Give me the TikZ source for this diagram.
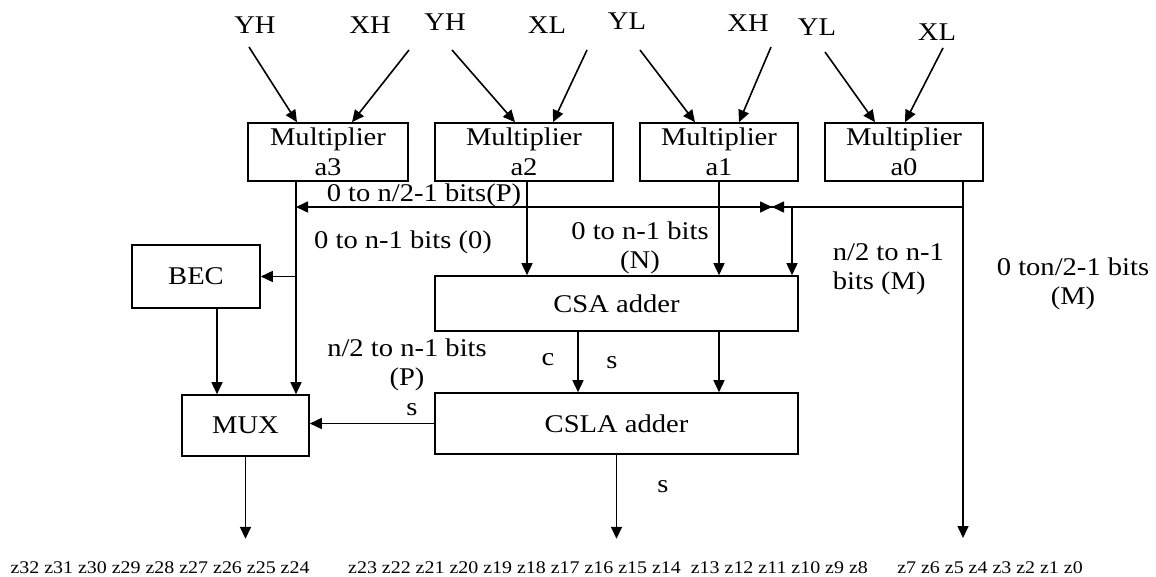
\documentclass[tikz,border=0pt]{standalone}
\usepackage{fontspec}
\setmainfont{Liberation Serif}[FakeStretch=1.12]
\usetikzlibrary{arrows.meta}
\begin{document}
\begin{tikzpicture}[x=0.5pt,y=-0.5pt,line width=0.8pt,
  >={Triangle[length=6pt,width=5.5pt]},
  blk/.style={draw,line width=0.8pt,inner sep=0pt,align=center,font=\fontsize{12.75}{15}\selectfont},
  lbl/.style={inner sep=0pt,align=center,font=\fontsize{12.75}{14.5}\selectfont},
  zlbl/.style={inner sep=0pt,font=\fontsize{8.9}{10}\selectfont}]
\useasboundingbox (0,0) rectangle (1156,577);
% input labels
\node[lbl] (iyh3) at (255,25) {YH};
\node[lbl] (ixh3) at (370,25) {XH};
\node[lbl] (iyh2) at (445,22) {YH};
\node[lbl] (ixl2) at (547,25) {XL};
\node[lbl] (iyl1) at (627,21) {YL};
\node[lbl] (ixh1) at (748,23) {XH};
\node[lbl] (iyl0) at (817,27) {YL};
\node[lbl] (ixl0) at (937,32) {XL};
% multipliers
\node[blk,minimum width=80pt,minimum height=29pt] (m3) at (328,152) {Multiplier\\a3};
\node[blk,minimum width=89pt,minimum height=29pt] (m2) at (524,152) {Multiplier\\a2};
\node[blk,minimum width=79pt,minimum height=29pt] (m1) at (719,152) {Multiplier\\a1};
\node[blk,minimum width=79pt,minimum height=29pt] (m0) at (904,152) {Multiplier\\a0};
% other blocks
\node[blk,minimum width=64pt,minimum height=31.5pt] (bec) at (196,276.5) {BEC};
\node[blk,minimum width=181.5pt,minimum height=27.5pt] (csa) at (616.5,303.5) {CSA adder};
\node[blk,minimum width=181.5pt,minimum height=30.5pt] (csla) at (616.5,423.5) {CSLA adder};
\node[blk,minimum width=63.5pt,minimum height=30.5pt] (mux) at (245.5,425.5) {MUX};
% input arrow starts
\coordinate (s1) at (249,47);
\coordinate (s2) at (409,50);
\coordinate (s3) at (452,50);
\coordinate (s4) at (587,50);
\coordinate (s5) at (640,50);
\coordinate (s6) at (771,47);
\coordinate (s7) at (825,52);
\coordinate (s8) at (943,48);
\draw[->] (s1) -- ([xshift=-15.5pt]m3.north);
\draw[->] (s2) -- ([xshift=12pt]m3.north);
\draw[->] (s3) -- ([xshift=-4.5pt]m2.north);
\draw[->] (s4) -- ([xshift=14.5pt]m2.north);
\draw[->] (s5) -- ([xshift=-12pt]m1.north);
\draw[->] (s6) -- ([xshift=10pt]m1.north);
\draw[->] (s7) -- ([xshift=-14.5pt]m0.north);
\draw[->] (s8) -- ([xshift=0.5pt]m0.north);
% bus and branches
\coordinate (p3) at (296,181);
\coordinate (p2) at (527,181);
\coordinate (q0) at (963,181);
\coordinate (bus0) at (963,207);
\coordinate (busL) at (296,207);
\coordinate (bow) at (772,207);
\coordinate (bowL) at (750,207);
\coordinate (br) at (792,207);
\coordinate (cx) at (578,0);
\coordinate (zend) at (963,538);
\draw (q0) -- (bus0);
\draw[->] (bus0) -- (zend);
\draw[->] (bus0) -- (busL);
\draw[->] (bus0) -- (bow);
\draw[->] (bowL) -- (bow);
\draw[->] (br) -- (br |- csa.north);
\draw[->] (p2) -- (p2 |- csa.north);
\draw[->] (m1.south) -- (m1.south |- csa.north);
\draw[->] (p3) -- (p3 |- mux.north);
\draw[->] (p3 |- bec.east) -- (bec.east);
\draw[->] ([xshift=10.5pt]bec.south) -- ([xshift=10.5pt]bec.south |- mux.north);
\draw[->] (cx |- csa.south) -- (cx |- csla.north);
\draw[->] (m1.south |- csa.south) -- (m1.south |- csla.north);
\draw[->] (csla.west) -- (csla.west -| mux.east);
\draw[->] (csla.south) -- ++(0,84);
\draw[->] (mux.south) -- ++(0,82);
% labels
\node[lbl] (lbusp) at (424,195) {0 to n/2-1 bits(P)};
\node[lbl] (l0n) at (403,242) {0 to n-1 bits (0)};
\node[lbl] (lN) at (640,248) {0 to n-1 bits\\(N)};
\node[lbl,align=left,anchor=west] (lM) at (832,269) {n/2 to n-1\\bits (M)};
\node[lbl] (lM2) at (1073,284) {0 ton/2-1 bits\\(M)};
\node[lbl] (lP) at (407,365) {n/2 to n-1 bits\\(P)};
\node[lbl] (ls1) at (412,410) {s};
\node[lbl] (lc) at (548,360) {c};
\node[lbl] (ls2) at (612,363) {s};
\node[lbl] (ls3) at (663,487) {s};
% outputs
\node[zlbl] (z1) at (160,568) {z32 z31 z30 z29 z28 z27 z26 z25 z24};
\node[zlbl] (z2) at (608,568) {z23 z22 z21 z20 z19 z18 z17 z16 z15 z14~ z13 z12 z11 z10 z9 z8};
\node[zlbl] (z3) at (990,568) {z7 z6 z5 z4 z3 z2 z1 z0};
\end{tikzpicture}
\end{document}
